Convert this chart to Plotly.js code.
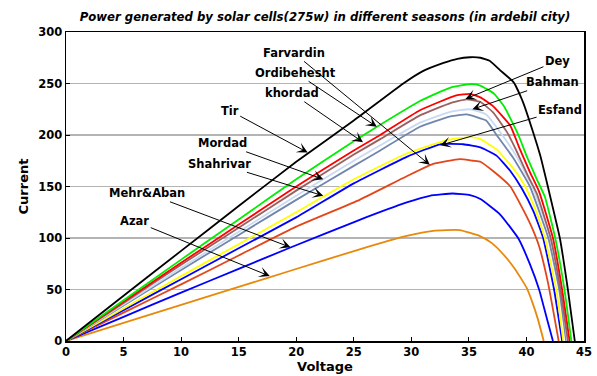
<!DOCTYPE html>
<html>
<head>
<meta charset="utf-8">
<script src="https://cdn.plot.ly/plotly-3.0.1.min.js"></script>
<style>html,body{margin:0;padding:0;background:#fff;}#chart{width:597px;height:376px;}</style>
</head>
<body>
<div id="chart"></div>
<script>
// ---- data ----
const tirV = [0,5,10,15,20,25,29.3,31,32.8,34,35.1,36,36.8,37.7,38.9,39.7,40.6,41.2,41.9,42.9,43.6,44.2];
const tirI = [0,44,87.5,131,174,214,250,262,270,274,275.5,275,272,263,251,232,202,180,148,100,50,0];

const ordV = [0,5,10,15,20,25,27.3,30.75,33.4,35.2,36,37.2,38.1,39.3,40,40.9,41.6,42.5,43.3,43.9];
const ordI = [0,39.5,79,118,157,194,210,233,246,249.5,248,240,227,200,180,157,140,100,50,0];

const khoV = [0,5,10,15,20,25,27.3,30.75,33.9,35.1,36,37.1,38.6,39.4,40.3,41.1,42.3,43.1,43.75];
const khoI = [0,38,76,113,150,185,200,224,238.5,240,236.5,228,209,187,164,145,100,50,0];

const deyV = [0,5,10,15,20,25,27.3,30.75,33.4,34.8,36,37.1,38.3,39.2,40.1,40.9,42.1,42.95,43.6];
const deyI = [0,37,74,110,146,181,196,219,231,234.5,232,222,203,183,161,143,100,50,0];

const bahV = [0,5,10,15,20,25,27.3,30.75,33.4,35.1,36.5,37.9,39.2,40.5,42.1,43.0,43.55];
const bahI = [0,35.5,71,106,141,175,190,212,222.5,225,220,200,178,150,100,50,0];

const morV = [0,5,10,15,20,25,27.3,30.75,33.4,34.8,36.5,37.4,38.9,40.3,41.9,42.85,43.45];
const morI = [0,34.5,69,103,137,170,185,208,218,220,214,200,177,150,100,50,0];

const shaV = [0,5,10,15,20,25,29.6,33.1,35.2,36,37.4,38.9,39.9,40.8,41.6,42.6,43.2];
const shaI = [0,31.5,63,94,125,157,182,195,198,196,186,167,150,127,100,50,0];

const esfV = [0,5,10,15,20,25,29.6,32.5,34.5,36,37.4,38.6,39.6,40.6,41.45,42.4,43.1];
const esfI = [0,30,60,90,120,153,178.8,191,191,188,180,165,148,126,100,50,0];

const farV = [0,5,10,15,20,25.3,29.6,31.9,34.2,35.4,36,37.1,38.6,39.6,40.4,41.1,41.9,42.8];
const farI = [0,27.5,55,83,111,136,160,172,176.6,175,174,165,150,130,112,92,55,0];

const mehV = [0,5,10,15,19.5,25.3,29.6,31.6,33.6,35.1,36,37.7,39.3,40.3,41.1,41.75,42.3];
const mehI = [0,23.5,47,70,90.8,116.7,134.5,141,143.2,141.6,137.8,123,99.5,74.6,50,22.8,0];

const azaV = [0,5,10,15,19.5,25.3,29.6,31.9,34.2,36,37,38,39,40,40.5,41,41.5];
const azaI = [0,17.5,35,52.5,68.2,88.3,102,107,107.7,101.6,95,84,70,52,38,21,0];

const xTicks = [0,5,10,15,20,25,30,35,40,45];
const yTicks = [0,50,100,150,200,250,300];

const seriesNames = ['Azar','Mehr&Aban','Farvardin','Esfand','Shahrivar','Mordad','Bahman','Dey','khordad','Ordibehesht','Tir'];
const seriesV = [azaV, mehV, farV, esfV, shaV, morV, bahV, deyV, khoV, ordV, tirV];
const seriesI = [azaI, mehI, farI, esfI, shaI, morI, bahI, deyI, khoI, ordI, tirI];
const seriesColors = ['#e8890c','#0000ff','#e2461a','#0000ff','#ffff00','#7186ad','#c9daf2','#9a6060','#ff0000','#00ee00','#000000'];

// label placement: arrow head on the curve (data), label offset in pixels
const labelText = ['Farvardin','Ordibehesht','khordad','Tir','Mordad','Shahrivar','Mehr&Aban','Azar','Dey','Bahman','Esfand'];
const labelHeadV = [31.6, 27.0, 25.8, 21.0, 22.35, 22.35, 19.5, 17.7, 34.7, 35.3, 32.5];
const labelHeadI = [171, 208, 193, 183, 157, 141, 91, 63, 235, 225, 190];
const labelDX = [-136, -81, -71, -78, -101, -104, -143, -135, 92, 80, 120];
const labelDY = [-112, -54, -49, -42, -36, -32, -54, -55, -38, -27, -35];

const FONT = 'DejaVu Sans, Liberation Sans, Arial, sans-serif';

const traces = seriesNames.map((n, k) => ({
  x: seriesV[k], y: seriesI[k], name: n, type: 'scatter', mode: 'lines',
  line: {color: seriesColors[k], width: 1.8, shape: 'spline', smoothing: 0.4},
  hoverinfo: 'skip'
}));

const annotations = labelText.map((t, k) => ({
  text: t, x: labelHeadV[k], y: labelHeadI[k], xref: 'x', yref: 'y',
  ax: labelDX[k], ay: labelDY[k], showarrow: true,
  arrowhead: 3, arrowsize: 1.8, arrowwidth: 1, arrowcolor: '#000',
  font: {family: FONT, size: 11.5, color: '#000', weight: 'bold'}
}));

const layout = {
  width: 597, height: 376,
  margin: {l: 66, r: 13, t: 32, b: 35},
  paper_bgcolor: '#fff', plot_bgcolor: '#fff',
  showlegend: false,
  title: {
    text: 'Power generated by solar cells(275w) in different seasons (in ardebil city)',
    font: {family: FONT, size: 11.7, color: '#000', weight: 'bold', style: 'italic'},
    x: 0.5, xref: 'paper', xanchor: 'center', y: 0.955, yanchor: 'middle'
  },
  xaxis: {
    range: [0, 45], tickvals: xTicks, ticktext: xTicks.map(String),
    showgrid: false, zeroline: false,
    showline: true, mirror: true, linecolor: '#000', linewidth: 1.5,
    ticks: 'inside', ticklen: 4, tickcolor: '#000',
    tickfont: {family: FONT, size: 11.5, color: '#000', weight: 'bold'},
    title: {text: 'Voltage', font: {family: FONT, size: 13, color: '#000', weight: 'bold'}, standoff: 2}
  },
  yaxis: {
    range: [0, 300], tickvals: yTicks, ticktext: yTicks.map(String),
    showgrid: true, gridcolor: '#b4b4b4', gridwidth: 1.5, zeroline: false,
    showline: true, mirror: true, linecolor: '#000', linewidth: 1.5,
    ticks: 'inside', ticklen: 4, tickcolor: '#000',
    tickfont: {family: FONT, size: 11.5, color: '#000', weight: 'bold'},
    title: {text: 'Current', font: {family: FONT, size: 13, color: '#000', weight: 'bold'}, standoff: 6}
  },
  annotations: annotations
};

Plotly.newPlot('chart', traces, layout, {displayModeBar: false, staticPlot: true});
</script>
</body>
</html>
